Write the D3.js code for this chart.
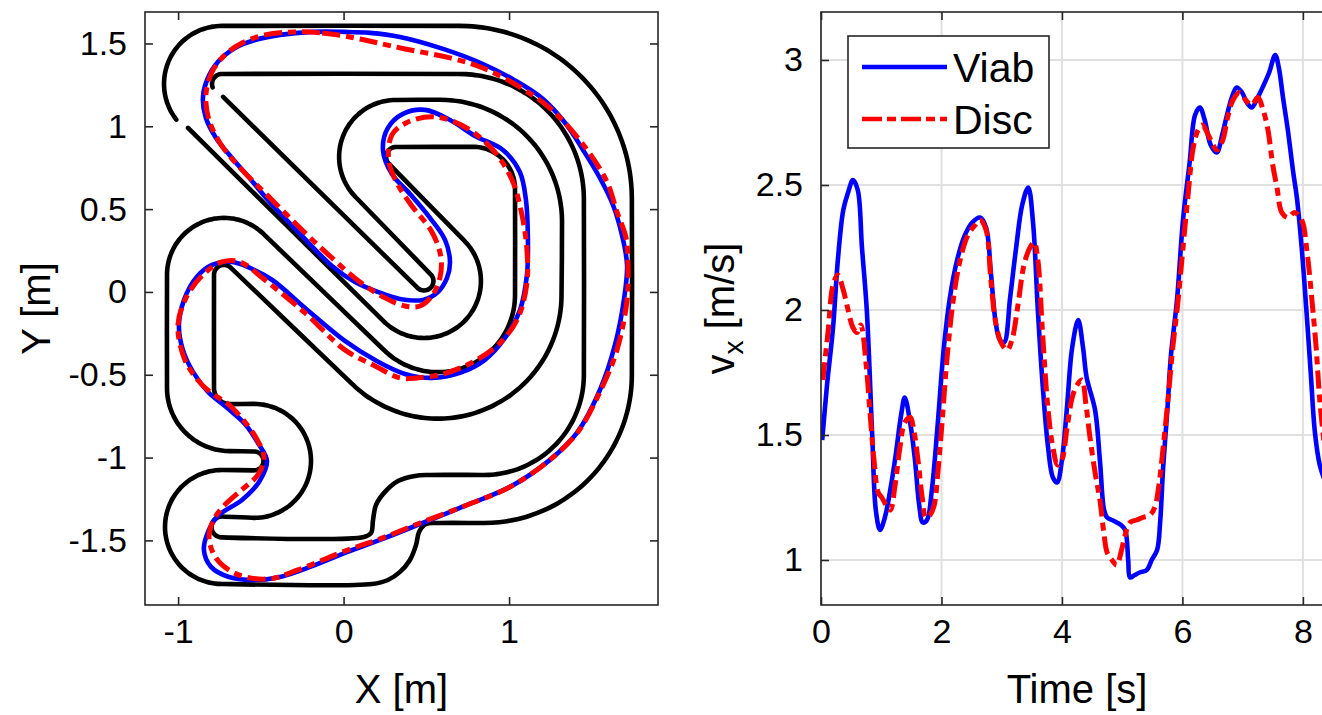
<!DOCTYPE html>
<html><head><meta charset="utf-8">
<script src="https://cdn.jsdelivr.net/npm/d3@7"></script>
<style>html,body{margin:0;padding:0;background:#fff;overflow:hidden}</style>
</head><body>
<svg id="c" width="1322" height="715"></svg>
<script>
// ---------------- DATA ----------------
// Track boundaries (metres). "P" = point, "A" = arc [cx, cy, r, startDeg, endDeg]
const outerBoundary = [
  ["P", -0.940, 0.990],
  ["A", 0.486, 0.066, 0.344, 225, 405],
  ["A", 0.317, 0.815, 0.060, 225, 90],
  ["A", 0.782, 0.622, 0.254, 90, 0],
  ["A", 0.570, -0.018, 0.466, 0, -135],
  ["A", -0.723, 0.103, 0.344, 45, 180],
  ["A", -0.686, -0.580, 0.381, 180, 270],
  ["A", -0.541, -1.020, 0.057, 90, -90],
  ["A", -0.735, -1.419, 0.344, 90, 270],
  ["P", 0.172, -1.763], ["P", 0.268, -1.739], ["P", 0.341, -1.690], ["P", 0.401, -1.618],
  ["P", 0.438, -1.527], ["P", 0.456, -1.449], ["P", 0.498, -1.401], ["P", 0.583, -1.395],
  ["A", 0.848, -0.501, 0.894, -90, 0],
  ["A", 0.697, 0.561, 1.045, 0, 90],
  ["A", -0.735, 1.256, 0.350, 90, 218]
];
const innerBoundary = [
  ["P", -0.728, 1.177],
  ["A", 0.486, 0.066, 0.057, 225, 405],
  ["A", 0.317, 0.815, 0.344, 225, 90],
  ["A", 0.583, 0.423, 0.737, 90, 0],
  ["A", 0.570, -0.018, 0.747, 0, -135],
  ["A", -0.723, 0.103, 0.060, 45, 180],
  ["A", -0.686, -0.580, 0.097, 180, 270],
  ["A", -0.541, -1.020, 0.344, 90, -90],
  ["A", -0.735, -1.419, 0.063, 90, 270],
  ["P", 0.123, -1.479], ["P", 0.166, -1.455], ["P", 0.178, -1.376], ["P", 0.196, -1.286],
  ["P", 0.250, -1.207], ["P", 0.329, -1.141], ["P", 0.431, -1.111], ["P", 0.522, -1.105],
  ["A", 0.848, -0.501, 0.604, -90, 0],
  ["A", 0.697, 0.561, 0.755, 0, 90],
  ["A", -0.735, 1.256, 0.060, 90, 200]
];

// Trajectories (x, y in metres)
const viabX = [0.002,-0.191,-0.384,-0.535,-0.656,-0.759,-0.825,-0.850,-0.832,-0.771,-0.674,-0.554,-0.457,-0.263,-0.070,0.069,0.208,0.341,0.480,0.570,0.625,0.643,0.613,0.522,0.401,0.292,0.238,0.268,0.359,0.492,0.643,0.794,0.963,1.065,1.102,1.114,1.108,1.066,0.975,0.854,0.703,0.534,0.371,0.190,0.008,-0.233,-0.431,-0.566,-0.674,-0.795,-0.892,-0.964,-0.995,-0.971,-0.910,-0.819,-0.704,-0.596,-0.518,-0.463,-0.511,-0.614,-0.759,-0.819,-0.844,-0.801,-0.693,-0.535,-0.384,-0.203,0.008,0.220,0.462,0.746,1.006,1.247,1.410,1.549,1.640,1.694,1.713,1.682,1.628,1.549,1.447,1.344,1.205,1.030,0.842,0.601,0.341,0.160];
const viabY = [1.570,1.570,1.552,1.521,1.473,1.389,1.280,1.171,1.050,0.930,0.809,0.670,0.555,0.350,0.157,0.060,0.000,-0.042,-0.048,0.000,0.085,0.181,0.314,0.447,0.592,0.712,0.857,0.990,1.075,1.099,1.038,0.942,0.857,0.724,0.555,0.314,0.103,-0.109,-0.278,-0.410,-0.489,-0.519,-0.495,-0.411,-0.296,-0.097,0.072,0.145,0.181,0.163,0.085,-0.048,-0.199,-0.350,-0.483,-0.604,-0.700,-0.797,-0.911,-1.020,-1.147,-1.256,-1.352,-1.449,-1.558,-1.660,-1.721,-1.739,-1.721,-1.660,-1.575,-1.497,-1.401,-1.286,-1.177,-1.014,-0.851,-0.592,-0.320,-0.048,0.163,0.344,0.525,0.688,0.857,1.014,1.165,1.280,1.376,1.467,1.539,1.564];
const discX = [0.002,-0.143,-0.294,-0.475,-0.614,-0.717,-0.795,-0.832,-0.813,-0.735,-0.614,-0.457,-0.263,-0.070,0.099,0.250,0.371,0.462,0.534,0.582,0.588,0.534,0.413,0.329,0.274,0.292,0.389,0.552,0.733,0.903,1.018,1.078,1.108,1.108,1.054,0.945,0.782,0.601,0.444,0.341,0.190,0.008,-0.233,-0.475,-0.626,-0.735,-0.850,-0.952,-1.001,-0.964,-0.892,-0.807,-0.699,-0.596,-0.518,-0.481,-0.518,-0.638,-0.735,-0.789,-0.813,-0.771,-0.650,-0.457,-0.276,0.008,0.220,0.462,0.746,1.006,1.247,1.416,1.549,1.652,1.713,1.719,1.707,1.652,1.592,1.459,1.259,1.054,0.842,0.643,0.371,0.208,0.099];
const discY = [1.546,1.564,1.570,1.552,1.503,1.431,1.328,1.189,1.038,0.881,0.737,0.580,0.386,0.205,0.060,-0.036,-0.085,-0.085,-0.024,0.085,0.211,0.362,0.519,0.646,0.785,0.948,1.026,1.057,0.996,0.857,0.676,0.465,0.254,0.054,-0.157,-0.308,-0.423,-0.495,-0.519,-0.519,-0.447,-0.350,-0.127,0.072,0.181,0.181,0.103,-0.036,-0.199,-0.398,-0.519,-0.604,-0.676,-0.785,-0.900,-1.002,-1.105,-1.213,-1.304,-1.383,-1.485,-1.606,-1.702,-1.733,-1.678,-1.564,-1.491,-1.395,-1.286,-1.177,-1.014,-0.845,-0.604,-0.350,-0.048,0.151,0.326,0.483,0.664,0.875,1.099,1.244,1.352,1.413,1.467,1.503,1.527];

// Longitudinal velocity vs time
const viabT = [0.02,0.10,0.20,0.28,0.37,0.45,0.53,0.61,0.68,0.76,0.85,0.91,0.98,1.06,1.15,1.24,1.33,1.39,1.48,1.56,1.63,1.69,1.76,1.84,1.93,2.04,2.14,2.26,2.39,2.51,2.64,2.74,2.82,2.90,2.97,3.04,3.14,3.24,3.34,3.44,3.52,3.60,3.68,3.77,3.85,3.92,4.00,4.08,4.17,4.27,4.35,4.41,4.55,4.63,4.70,4.75,4.83,4.91,4.98,5.05,5.10,5.13,5.21,5.29,5.41,5.49,5.58,5.63,5.68,5.75,5.81,5.91,6.01,6.12,6.21,6.29,6.37,6.47,6.57,6.66,6.74,6.82,6.90,6.99,7.07,7.15,7.25,7.35,7.44,7.54,7.60,7.67,7.75,7.84,7.90,7.98,8.07,8.13,8.20,8.28,8.36];
const viabV = [1.48,1.70,1.93,2.20,2.40,2.47,2.52,2.48,2.25,2.00,1.50,1.20,1.12,1.17,1.28,1.42,1.58,1.65,1.55,1.40,1.22,1.15,1.16,1.28,1.52,1.85,2.05,2.20,2.30,2.35,2.37,2.33,2.15,1.95,1.88,1.87,2.05,2.25,2.42,2.49,2.35,2.00,1.70,1.45,1.33,1.31,1.40,1.60,1.85,1.96,1.85,1.73,1.60,1.40,1.20,1.17,1.16,1.15,1.14,1.12,1.00,0.93,0.94,0.95,0.96,1.00,1.04,1.15,1.37,1.60,1.82,2.04,2.36,2.59,2.78,2.81,2.76,2.66,2.63,2.70,2.78,2.85,2.89,2.87,2.83,2.81,2.85,2.90,2.95,3.02,2.97,2.85,2.72,2.55,2.45,2.25,1.96,1.75,1.51,1.38,1.32];
const discT = [0.03,0.12,0.20,0.28,0.37,0.45,0.53,0.60,0.66,0.75,0.81,0.88,0.95,1.01,1.08,1.15,1.23,1.31,1.39,1.48,1.54,1.61,1.68,1.74,1.81,1.88,1.94,2.01,2.09,2.19,2.31,2.44,2.56,2.64,2.74,2.82,2.90,2.99,3.09,3.17,3.27,3.37,3.47,3.54,3.60,3.68,3.77,3.85,3.93,4.00,4.08,4.17,4.25,4.33,4.40,4.46,4.55,4.63,4.70,4.75,4.83,4.91,4.98,5.05,5.13,5.24,5.34,5.46,5.54,5.61,5.68,5.76,5.84,5.92,6.01,6.09,6.18,6.26,6.33,6.43,6.51,6.57,6.67,6.75,6.84,6.95,7.05,7.15,7.25,7.34,7.42,7.50,7.57,7.65,7.75,7.86,7.98,8.07,8.15,8.22,8.28,8.36];
const discV = [1.72,1.92,2.10,2.14,2.08,2.00,1.93,1.91,1.94,1.78,1.60,1.40,1.27,1.25,1.22,1.20,1.30,1.45,1.55,1.57,1.52,1.40,1.25,1.17,1.18,1.22,1.35,1.55,1.80,2.03,2.20,2.30,2.34,2.36,2.32,2.12,1.95,1.87,1.84,1.88,2.02,2.18,2.25,2.27,2.20,1.90,1.60,1.45,1.38,1.40,1.52,1.65,1.70,1.72,1.62,1.50,1.35,1.24,1.10,1.03,1.00,0.98,1.03,1.10,1.15,1.16,1.17,1.18,1.21,1.30,1.45,1.64,1.85,2.02,2.25,2.45,2.65,2.72,2.74,2.70,2.66,2.64,2.68,2.77,2.84,2.87,2.84,2.82,2.85,2.80,2.72,2.58,2.49,2.39,2.37,2.39,2.36,2.23,2.04,1.85,1.64,1.45];

const trackXTicks = [-1, 0, 1];
const trackYTicks = [-1.5, -1, -0.5, 0, 0.5, 1, 1.5];
const timeTicks = [0, 2, 4, 6, 8];
const vxTicks = [1, 1.5, 2, 2.5, 3];
const seriesNames = ["Viab", "Disc"];

// ---------------- LAYOUT ----------------
const svg = d3.select("#c");
const FONT = "'Liberation Sans', Arial, Helvetica, sans-serif";
const AX = "#262626";
const LP = {x0: 145, x1: 658, y0: 12, y1: 605};
const RP = {x0: 821, x1: 1333, y0: 12, y1: 605};

const xL = d3.scaleLinear().domain([-1.2, 1.9]).range([LP.x0, LP.x1]);
const yL = d3.scaleLinear().domain([-1.89, 1.69]).range([LP.y1, LP.y0]);
const xR = d3.scaleLinear().domain([0, 8.5]).range([RP.x0, RP.x1]);
const yR = d3.scaleLinear().domain([0.82, 3.192]).range([RP.y1, RP.y0]);

function expand(prims) {
  const pts = [];
  for (const p of prims) {
    if (p[0] === "P") pts.push([p[1], p[2]]);
    else {
      const [, cx, cy, r, a0, a1] = p;
      const n = Math.max(2, Math.ceil(Math.abs(a1 - a0) / 3));
      for (let i = 0; i <= n; i++) {
        const a = (a0 + (a1 - a0) * i / n) * Math.PI / 180;
        pts.push([cx + r * Math.cos(a), cy + r * Math.sin(a)]);
      }
    }
  }
  return pts;
}

// right-panel grid
const gR = svg.append("g");
gR.selectAll("line.gx").data(timeTicks).join("line")
  .attr("x1", d => xR(d)).attr("x2", d => xR(d)).attr("y1", RP.y0).attr("y2", RP.y1)
  .attr("stroke", "#e0e0e0").attr("stroke-width", 2);
gR.selectAll("line.gy").data(vxTicks).join("line")
  .attr("x1", RP.x0).attr("x2", RP.x1).attr("y1", d => yR(d)).attr("y2", d => yR(d))
  .attr("stroke", "#e0e0e0").attr("stroke-width", 2);

// ---- left panel: track and trajectories
const lineL = d3.line().x(d => xL(d[0])).y(d => yL(d[1])).curve(d3.curveCatmullRom.alpha(0.5));
const gL = svg.append("g");
[outerBoundary, innerBoundary].forEach(b => {
  gL.append("path").attr("d", lineL(expand(b)))
    .attr("fill", "none").attr("stroke", "#000").attr("stroke-width", 4.6)
    .attr("stroke-linejoin", "round").attr("stroke-linecap", "round");
});
const loop = d3.line().x(d => xL(d[0])).y(d => yL(d[1])).curve(d3.curveCatmullRomClosed.alpha(0.5));
gL.append("path").attr("d", loop(viabX.map((x, i) => [x, viabY[i]])))
  .attr("fill", "none").attr("stroke", "#0000ff").attr("stroke-width", 4.6);
gL.append("path").attr("d", loop(discX.map((x, i) => [x, discY[i]])))
  .attr("fill", "none").attr("stroke", "#ff0000").attr("stroke-width", 5)
  .attr("stroke-dasharray", "18,6,8,6");

// ---- right panel: velocity
svg.append("clipPath").attr("id", "clipR").append("rect")
  .attr("x", RP.x0).attr("y", RP.y0).attr("width", RP.x1 - RP.x0).attr("height", RP.y1 - RP.y0);
const lineR = d3.line().x(d => xR(d[0])).y(d => yR(d[1])).curve(d3.curveCatmullRom.alpha(0.5));
const gD = svg.append("g").attr("clip-path", "url(#clipR)");
gD.append("path").attr("d", lineR(viabT.map((t, i) => [t, viabV[i]])))
  .attr("fill", "none").attr("stroke", "#0000ff").attr("stroke-width", 4.6).attr("stroke-linejoin", "round");
gD.append("path").attr("d", lineR(discT.map((t, i) => [t, discV[i]])))
  .attr("fill", "none").attr("stroke", "#ff0000").attr("stroke-width", 5)
  .attr("stroke-dasharray", "18,6,8,6");

// ---- axes
function axes(P, xs, ys, xt, yt) {
  const fmt = d => String(d);
  const g = svg.append("g");
  const ax = (gen, tr) => {
    const a = g.append("g").attr("transform", tr).call(gen);
    a.select(".domain").remove();
    a.selectAll("line").attr("stroke", AX).attr("stroke-width", 1.6);
    a.selectAll("text").attr("fill", "#000").style("font-family", FONT).style("font-size", "34px");
    return a;
  };
  ax(d3.axisBottom(xs).tickValues(xt).tickSizeInner(-8).tickSizeOuter(0).tickPadding(14).tickFormat(fmt), `translate(0,${P.y1})`);
  ax(d3.axisTop(xs).tickValues(xt).tickSizeInner(-8).tickSizeOuter(0).tickFormat(""), `translate(0,${P.y0})`);
  ax(d3.axisLeft(ys).tickValues(yt).tickSizeInner(-8).tickSizeOuter(0).tickPadding(18).tickFormat(fmt), `translate(${P.x0},0)`);
  ax(d3.axisRight(ys).tickValues(yt).tickSizeInner(-8).tickSizeOuter(0).tickFormat(""), `translate(${P.x1},0)`);
  g.append("rect").attr("x", P.x0).attr("y", P.y0).attr("width", P.x1 - P.x0).attr("height", P.y1 - P.y0)
    .attr("fill", "none").attr("stroke", AX).attr("stroke-width", 1.6);
}
axes(LP, xL, yL, trackXTicks, trackYTicks);
axes(RP, xR, yR, timeTicks, vxTicks);

// axis labels
const lab = (x, y, rot) => svg.append("text").attr("transform", `translate(${x},${y})` + (rot ? " rotate(-90)" : ""))
  .attr("text-anchor", "middle").style("font-family", FONT).style("font-size", "40px").attr("fill", "#000");
lab((LP.x0 + LP.x1) / 2, 703).text("X [m]");
lab(50, (LP.y0 + LP.y1) / 2, true).text("Y [m]");
lab((RP.x0 + RP.x1) / 2, 703).text("Time [s]");
const vl = lab(734, (RP.y0 + RP.y1) / 2, true);
vl.append("tspan").text("v");
vl.append("tspan").attr("dy", 9).style("font-size", "28px").text("x");
vl.append("tspan").attr("dy", -9).text(" [m/s]");

// legend
const lg = svg.append("g");
lg.append("rect").attr("x", 848).attr("y", 36).attr("width", 201).attr("height", 112)
  .attr("fill", "#fff").attr("stroke", AX).attr("stroke-width", 1.6);
const legendStyles = [{c: "#0000ff", d: null}, {c: "#ff0000", d: "20,5,9,5"}];
seriesNames.forEach((n, i) => {
  const y = 67 + i * 52;
  const l = lg.append("line").attr("x1", 862).attr("x2", 947).attr("y1", y).attr("y2", y)
    .attr("stroke", legendStyles[i].c).attr("stroke-width", 4.6);
  if (legendStyles[i].d) l.attr("stroke-dasharray", legendStyles[i].d);
  lg.append("text").attr("x", 953).attr("y", y + 15).style("font-family", FONT).style("font-size", "41px").text(n);
});
</script>
</body></html>
